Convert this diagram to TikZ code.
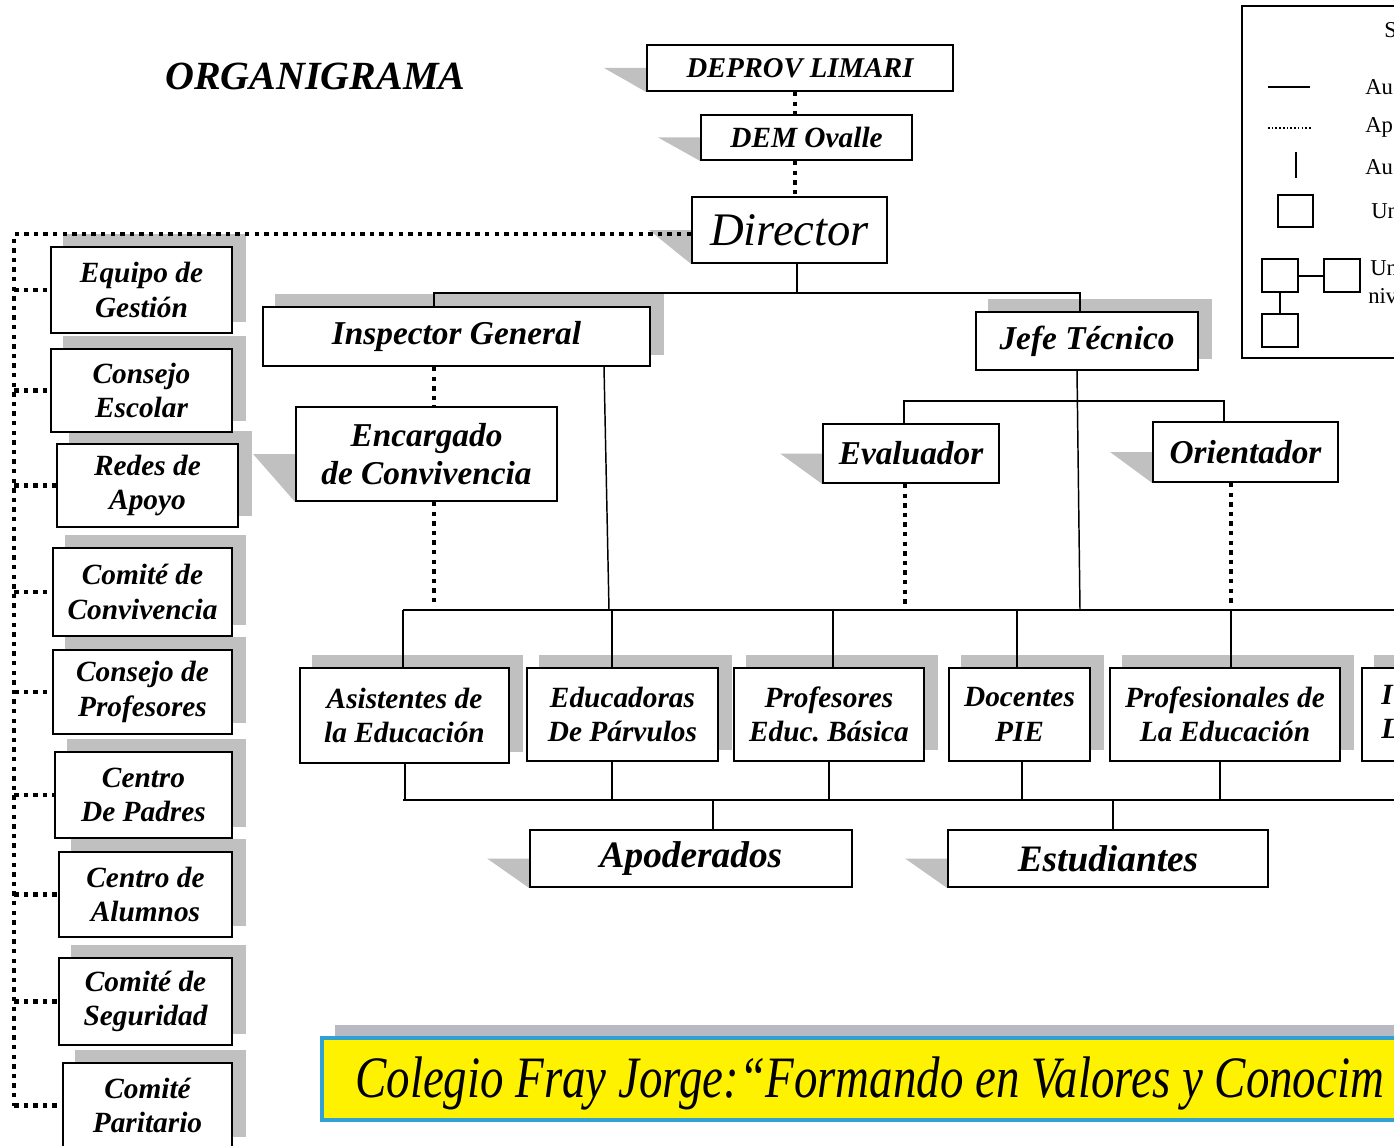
\documentclass[tikz,border=0pt]{standalone}
\usepackage{fontspec}
\setmainfont{Liberation Serif}
\newfontfamily\bannerfont[FakeStretch=0.8]{Liberation Serif}
\usetikzlibrary{fit,calc,backgrounds}
\definecolor{shadowgray}{RGB}{192,192,192}
\definecolor{bannerblue}{RGB}{50,160,210}
\definecolor{bannershadow}{RGB}{185,185,195}
\newcommand{\fs}[2]{\fontsize{#1}{#2}\selectfont}
\begin{document}
\begin{tikzpicture}[x=0.75pt,y=-0.75pt,
  box/.style={draw, line width=1.4pt, fill=white, inner sep=0pt, align=center},
  sz/.style 2 args={minimum width=#1*0.75pt, minimum height=#2*0.75pt},
  mbox/.style={box, font=\bfseries\itshape\fs{25}{28.5}},
  lbox/.style={box, font=\bfseries\itshape\fs{22}{26}},
  solidline/.style={line width=1.1pt},
  dots/.style={line width=3.4pt, dash pattern=on 3.4pt off 3.8pt},
  shade/.style={fill=shadowgray},
  legtext/.style={anchor=west, inner sep=0pt, font=\fs{17}{20}},
  legsq/.style={draw, line width=1.5pt, inner sep=0pt},
]
\useasboundingbox (0,0) rectangle (1394,1145);
\clip (0,0) rectangle (1394,1145);

% title
\node[anchor=base west, inner sep=0pt, font=\bfseries\itshape\fs{30}{34}] (title) at (165,90) {ORGANIGRAMA};

% top chain
\node[box, sz={306}{46}, font=\bfseries\itshape\fs{21.5}{24}] (deprov) at (800,68) {DEPROV LIMARI};
\node[box, sz={211}{45}, font=\bfseries\itshape\fs{22}{25}] (dem) at (806.5,137.5) {DEM Ovalle};
\node[box, sz={195}{66}, font=\itshape\fs{35}{40}] (dir) at (789.5,230) {Director};

% second level
\node[mbox, sz={387}{59}] (insp) at (456.5,336.5) {Inspector General};
\node[mbox, sz={222}{58}] (jefe) at (1087,341) {Jefe Técnico};
\node[mbox, sz={261}{94}] (enc) at (426.5,454) {Encargado\\de Convivencia};
\node[mbox, sz={176}{59}] (eval) at (911,453.5) {Evaluador};
\node[mbox, sz={185}{60}] (ori) at (1245.5,452) {Orientador};

% left column
\node[lbox, sz={181}{86}] (eq) at (141.5,290) {Equipo de\\Gestión};
\node[lbox, sz={181}{83}] (ce) at (141.5,390.5) {Consejo\\Escolar};
\node[lbox, sz={181}{83}] (ra) at (147.5,485.5) {Redes de\\Apoyo};
\node[lbox, sz={179}{88}] (cc) at (142.5,592) {Comité de\\Convivencia};
\node[lbox, sz={179}{84}] (cp) at (142.5,692) {Consejo de\\Profesores};
\node[lbox, sz={177}{86}] (cpa) at (143.5,795) {Centro\\De Padres};
\node[lbox, sz={173}{85}] (ca) at (145.5,894.5) {Centro de\\Alumnos};
\node[lbox, sz={173}{87}] (cs) at (145.5,1001.5) {Comité de\\Seguridad};
\node[lbox, sz={169}{85}] (cpt) at (147.5,1105.5) {Comité\\Paritario};

% bottom row
\node[lbox, sz={209}{95}] (ae) at (404.5,715.5) {Asistentes de\\la Educación};
\node[lbox, sz={191}{93}] (ep) at (622.5,714.5) {Educadoras\\De Párvulos};
\node[lbox, sz={190}{93}] (pb) at (829,714.5) {Profesores\\Educ.\ Básica};
\node[lbox, sz={141}{93}] (dp) at (1019.5,714.5) {Docentes\\PIE};
\node[lbox, sz={230}{93}] (pe) at (1225,714.5) {Profesionales de\\La Educación};
\node[lbox, sz={88}{93}] (last) at (1406,714.5) {};
\node[anchor=west, align=left, inner sep=0pt, font=\bfseries\itshape\fs{22}{26}] (lasttext) at (1381,712) {I\\L};

\node[box, sz={322}{57}, font=\bfseries\itshape\fs{28}{31}] (apo) at (691,858.5) {Apoderados};
\node[box, sz={320}{57}, font=\bfseries\itshape\fs{28}{31}] (est) at (1108,858.5) {Estudiantes};

% shadows
\begin{scope}[on background layer]
  \foreach \n in {deprov,dem,dir,enc,eval,ori,apo,est}
    \fill[shade] ($(\n.west)+(-42,0)$) -- (\n.west) -- (\n.south west) -- cycle;
  \foreach \n in {insp,jefe,eq,ce,ra,cc,cp,cpa,ca,cs,cpt,ae,ep,pb,dp,pe,last}
    \fill[shade] ($(\n.south west)+(13,-12)$) rectangle ($(\n.north east)+(13,-12)$);
\end{scope}

% dotted chain at top
\coordinate (xv) at (795,0);
\draw[dots] (xv |- deprov.south) -- (xv |- dem.north);
\draw[dots] (xv |- dem.south) -- (xv |- dir.north);

% dotted left column
\coordinate (lx) at (14,0);
\draw[dots] ($(dir.west)+(0,4)$) -- ($(lx |- dir.west)+(0,4)$) -- (lx |- cpt.west);
\foreach \n in {eq,ce,ra,cc,cp,cpa,ca,cs,cpt}
  \draw[dots] (lx |- \n.west) -- (\n.west);

% main tree
\coordinate (dj) at (797,293);
\coordinate (hl) at (434,293);
\coordinate (hr) at (1080,293);
\draw[solidline] (dj |- dir.south) -- (dj);
\draw[solidline] (hl |- insp.north) -- (hl) -- (hr) -- (hr |- jefe.north);
\coordinate (rowA) at (0,607);
\draw[dots] (hl |- insp.south) -- (hl |- enc.north);
\draw[dots] (hl |- enc.south) -- (hl |- rowA);
\coordinate (ia) at (604,0);
\coordinate (ib) at (609,610);
\draw[solidline] (ia |- insp.south) -- (ib);
\coordinate (ja) at (1077,0);
\coordinate (jb) at (1080,610);
\draw[solidline] (ja |- jefe.south) -- (jb);
\coordinate (el) at (904,401);
\coordinate (er) at (1224,401);
\draw[solidline] (el |- eval.north) -- (el) -- (er) -- (er |- ori.north);
\coordinate (ed) at (905,0);
\coordinate (od) at (1231,0);
\draw[dots] (ed |- eval.south) -- (ed |- rowA);
\draw[dots] (od |- ori.south) -- (od |- rowA);

\coordinate (rl) at (403,610);
\coordinate (rr) at (1394,610);
\draw[solidline] (rl) -- (rr);
\foreach \x/\n in {403/ae,612/ep,833/pb,1017/dp,1231/pe}{
  \coordinate (t\n) at (\x,610);
  \draw[solidline] (t\n) -- (t\n |- \n.north);
}
\coordinate (bl) at (403,800);
\coordinate (br) at (1394,800);
\draw[solidline] (bl) -- (br);
\foreach \x/\n in {405/ae,612/ep,829/pb,1022/dp,1220/pe}{
  \coordinate (b\n) at (\x,800);
  \draw[solidline] (b\n |- \n.south) -- (b\n);
}
\coordinate (apj) at (713,800);
\coordinate (esj) at (1113,800);
\draw[solidline] (apj) -- (apj |- apo.north);
\draw[solidline] (esj) -- (esj |- est.north);

% banner
\fill[bannershadow] (335,1025) rectangle (1400,1040);
\node[draw=bannerblue, line width=2.4pt, fill=yellow, inner sep=0pt, fit={(322,1038)(1430,1120)}] (banner) {};
\node[anchor=base west, inner sep=0pt, font=\bannerfont\itshape\fs{44}{48}] (slogan) at (355,1097) {Colegio Fray Jorge:“Formando en Valores y Conocim};

% legend
\node[draw, line width=1.2pt, inner sep=0pt, fit={(1242,6)(1440,358)}] (legend) {};
\node[legtext] (lt0) at (1384,30) {S};
\draw[line width=1.5pt] (1268,87) -- (1310,87);
\node[legtext] (lt1) at (1365,87) {Au};
\draw[line width=1.2pt, dash pattern=on 1.2pt off 1.6pt] (1268,128) -- (1312,128);
\node[legtext] (lt2) at (1365,127) {Ap};
\draw[line width=1.8pt] (1296,152) -- (1296,178);
\node[legtext] (lt3) at (1365,167) {Au};
\node[legsq, fit={(1278,195)(1313,227)}] (lsq) {};
\node[legtext] (lt4) at (1371,211) {Un};
\node[legsq, fit={(1262,259)(1298,292)}] (lg1) {};
\node[legsq, fit={(1324,259)(1360,292)}] (lg2) {};
\node[legsq, fit={(1262,314)(1298,347)}] (lg3) {};
\draw[line width=1.5pt] (lg1.east) -- (lg2.west);
\draw[line width=1.5pt] (lg1.south) -- (lg3.north);
\node[legtext] (lt5) at (1370,268) {Un};
\node[legtext] (lt6) at (1368,296) {niv};
\end{tikzpicture}
\end{document}
